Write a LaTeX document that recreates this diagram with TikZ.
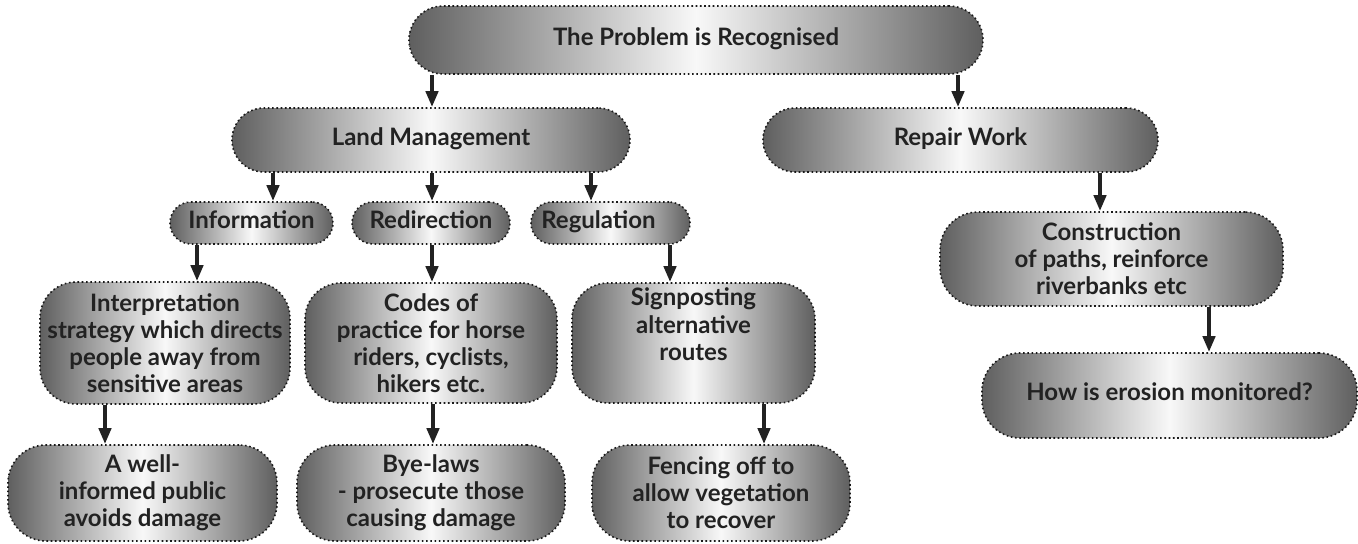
\documentclass[tikz,border=0pt]{standalone}
\usepackage{fontspec}
\setmainfont{Lato}
\usetikzlibrary{arrows.meta}
\definecolor{edgegray}{RGB}{95,95,95}
\definecolor{midgray}{RGB}{248,248,248}
\definecolor{inkc}{RGB}{34,34,34}
\begin{document}
\begin{tikzpicture}[x=0.75pt,y=-0.75pt,
  box/.style n args={3}{draw=black!90, dotted, line width=1.2pt,
    rounded corners=#3*0.75pt,
    left color=edgegray, right color=edgegray, middle color=midgray,
    minimum width=#1*0.75pt, minimum height=#2*0.75pt,
    inner sep=0pt, align=center, text=inkc,
    font=\fontsize{18}{20.3}\selectfont\bfseries},
  arr/.style={draw=inkc, line width=3pt,
    -{Triangle[length=12pt,width=9pt]}}]
\useasboundingbox (0,0) rectangle (1358,543);

\node[box={574}{68}{34}] (top) at (696,40) {The Problem is Recognised\strut};
\node[box={398}{64}{32}] (lm) at (431,140) {Land Management\strut};
\node[box={395}{64}{32}] (rw) at (960.5,140) {Repair Work\strut};

\node[box={163}{42}{21}] (info) at (251.5,223) {Information\strut};
\node[box={158}{42}{21}] (redir) at (431,223) {Redirection\strut};
\node[box={159}{42}{21}] (reg) at (610.5,223) {Regulation\hspace*{18pt}\strut};

\node[box={250}{122}{36}] (interp) at (165,343) {Interpretation\\strategy which directs\\people away from\\sensitive areas};
\node[box={252}{120}{36}] (codes) at (431,343) {Codes of\\practice for horse\\riders, cyclists,\\hikers etc.};
\node[box={243}{120}{36}] (sign) at (693.5,343) {Signposting\\alternative\\routes\\[8pt]};

\node[box={269}{96}{38}] (awell) at (142.5,493) {A well-\\informed public\\avoids damage};
\node[box={268}{96}{38}] (bye) at (431,493) {Bye-laws\\- prosecute those\\causing damage};
\node[box={258}{96}{38}] (fence) at (721,493) {Fencing off to\\allow vegetation\\to recover};

\node[box={343}{94}{38}] (constr) at (1111.5,259) {Construction\\of paths, reinforce\\riverbanks etc};
\node[box={375}{85}{38}] (how) at (1169.5,395.5) {How is erosion monitored?\strut};

\draw[arr] (top.south -| 432,0) -- (lm.north -| 432,0);
\draw[arr] (top.south -| 958,0) -- (rw.north -| 958,0);
\draw[arr] (lm.south -| 273,0) -- (info.north -| 273,0);
\draw[arr] (lm.south -| 432,0) -- (redir.north -| 432,0);
\draw[arr] (lm.south -| 591,0) -- (reg.north -| 591,0);
\draw[arr] (info.south -| 197,0) -- (interp.north -| 197,0);
\draw[arr] (redir.south -| 432,0) -- (codes.north -| 432,0);
\draw[arr] (reg.south -| 670,0) -- (sign.north -| 670,0);
\draw[arr] (interp.south -| 105,0) -- (awell.north -| 105,0);
\draw[arr] (codes.south -| 433,0) -- (bye.north -| 433,0);
\draw[arr] (sign.south -| 764,0) -- (fence.north -| 764,0);
\draw[arr] (rw.south -| 1100,0) -- (constr.north -| 1100,0);
\draw[arr] (constr.south -| 1209,0) -- (how.north -| 1209,0);
\end{tikzpicture}
\end{document}
